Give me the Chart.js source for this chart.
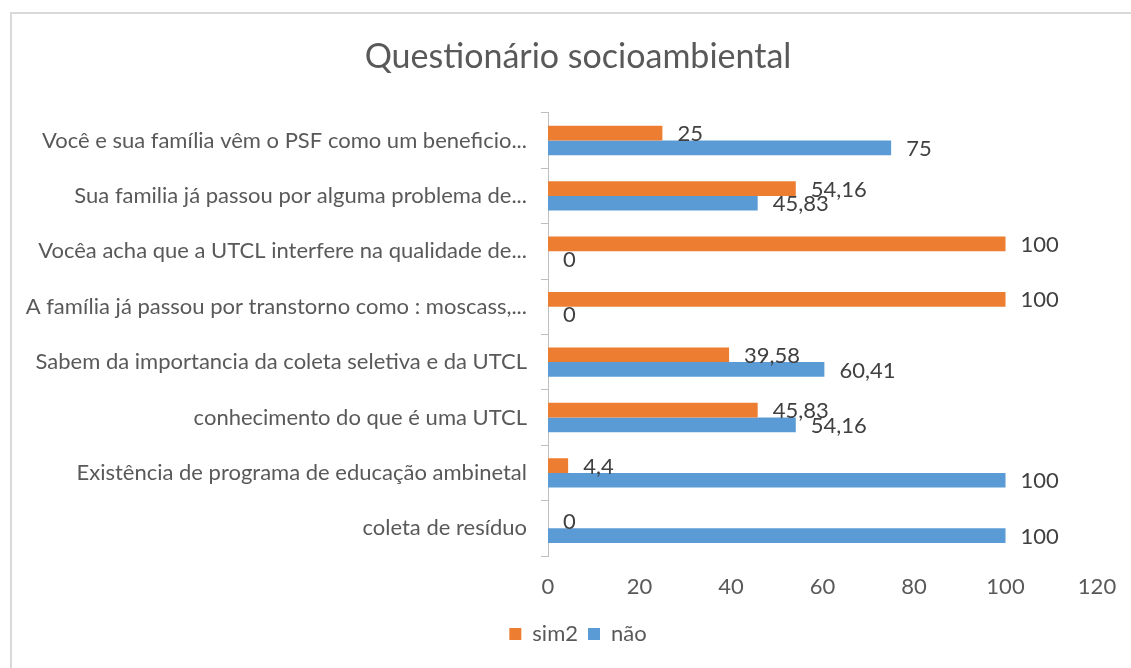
<!DOCTYPE html>
<html>
<head>
<meta charset="utf-8">
<script src="https://cdn.jsdelivr.net/npm/chart.js@4.4.1/dist/chart.umd.min.js"></script>
<style>
  html, body { margin: 0; padding: 0; background: #ffffff; }
  #wrap { width: 1131px; height: 668px; position: relative; }
</style>
</head>
<body>
<div id="wrap"><canvas id="c" width="1131" height="668"></canvas></div>
<script>
const categories = [
  "Você e sua família vêm o PSF como um beneficio...",
  "Sua familia já passou por alguma problema de...",
  "Vocêa acha que a UTCL interfere na qualidade de...",
  "A família já passou por transtorno como : moscass,...",
  "Sabem da importancia da coleta seletiva e da UTCL",
  "conhecimento do que é uma UTCL",
  "Existência de programa de educação ambinetal",
  "coleta de resíduo"
];
const seriesNames = ["sim2", "não"];
const sim2Values = [25, 54.16, 100, 100, 39.58, 45.83, 4.4, 0];
const naoValues = [75, 45.83, 0, 0, 60.41, 54.16, 100, 100];
const xTicks = [0, 20, 40, 60, 80, 100, 120];

const FONT = "Lato";

const borderPlugin = {
  id: 'outerBorder',
  beforeDraw(chart) {
    const ctx = chart.ctx;
    ctx.save();
    ctx.fillStyle = '#ffffff';
    ctx.fillRect(0, 0, chart.width, chart.height);
    ctx.strokeStyle = '#d9d9d9';
    ctx.lineWidth = 2;
    ctx.strokeRect(11, 13, 1400, 1000);
    ctx.restore();
  }
};

const labelPlugin = {
  id: 'valueLabels',
  afterDatasetsDraw(chart) {
    const ctx = chart.ctx;
    ctx.save();
    ctx.font = "22px " + FONT;
    ctx.fillStyle = '#404040';
    ctx.textAlign = 'left';
    ctx.textBaseline = 'middle';
    chart.data.datasets.forEach((ds, di) => {
      const meta = chart.getDatasetMeta(di);
      meta.data.forEach((bar, i) => {
        const v = ds.data[i];
        const txt = String(v).replace('.', ',');
        ctx.fillText(txt, bar.x + 15, bar.y + 1);
      });
    });
    ctx.restore();
  }
};

new Chart(document.getElementById('c'), {
  type: 'bar',
  data: {
    labels: categories,
    datasets: [
      { label: seriesNames[0], data: sim2Values, backgroundColor: '#ED7D31', borderWidth: 0 },
      { label: seriesNames[1], data: naoValues, backgroundColor: '#5B9BD5', borderWidth: 0 }
    ]
  },
  options: {
    indexAxis: 'y',
    responsive: false,
    animation: false,
    devicePixelRatio: 1,
    layout: { padding: { left: 59, right: 34, top: 0, bottom: 13 } },
    datasets: { bar: { barPercentage: 1.0, categoryPercentage: 0.53 } },
    scales: {
      x: {
        min: 0, max: 120,
        afterBuildTicks(scale) { scale.ticks = xTicks.map(v => ({ value: v })); },
        afterFit(scale) { scale.height = 57; },
        grid: { display: false },
        border: { display: false },
        ticks: { padding: 10, color: '#595959', font: { family: FONT, size: 22 } }
      },
      y: {
        afterFit(scale) {
          scale.width = 489;
          scale._computeLabelArea = function () { return undefined; };
        },
        grid: { display: true, offset: true, drawOnChartArea: false, drawTicks: true, tickLength: 7, color: '#bfbfbf' },
        border: { display: true, color: '#bfbfbf', width: 1 },
        ticks: { padding: 14, color: '#595959', font: { family: FONT, size: 22 } }
      }
    },
    plugins: {
      title: {
        display: true,
        text: 'Questionário socioambiental',
        color: '#595959',
        font: { family: FONT, size: 34, weight: 'normal' },
        padding: { top: 37, bottom: 35 }
      },
      legend: {
        position: 'bottom',
        labels: {
          color: '#595959',
          font: { family: FONT, size: 22 },
          boxWidth: 12, boxHeight: 12, padding: 10
        }
      },
      tooltip: { enabled: false }
    }
  },
  plugins: [borderPlugin, labelPlugin]
});
</script>
</body>
</html>
